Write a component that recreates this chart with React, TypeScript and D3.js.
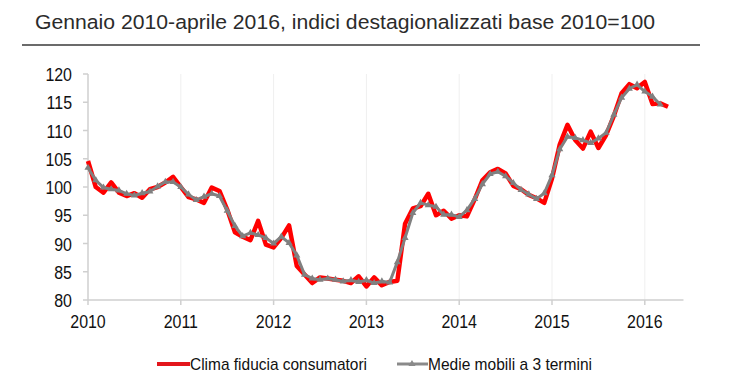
import React from "react";
import * as d3 from "d3";

const title = "Gennaio 2010-aprile 2016, indici destagionalizzati base 2010=100";
const yearLabels = ["2010", "2011", "2012", "2013", "2014", "2015", "2016"];
const yTicks = [80, 85, 90, 95, 100, 105, 110, 115, 120];
const seriesNames = ["Clima fiducia consumatori", "Medie mobili a 3 termini"];

// Monthly values, Jan 2010 - Apr 2016
const clima = [
  104.6, 100.0, 99.0, 100.8, 99.0, 98.4, 98.9, 98.1, 99.6, 100.0, 100.8, 101.8,
  100.0, 98.2, 97.8, 97.2, 99.9, 99.3, 96.0, 92.0, 91.2, 90.6, 94.0, 89.8,
  89.3, 91.0, 93.2, 86.0, 84.5, 83.0, 84.0, 83.8, 83.6, 83.4, 83.0, 84.2,
  82.4, 84.0, 82.6, 83.2, 83.4, 93.5, 96.2, 96.6, 98.8, 95.0, 95.8, 94.4,
  95.0, 94.8, 97.8, 101.2, 102.6, 103.2, 102.4, 100.2, 99.6, 98.6, 98.0, 97.2,
  101.5, 107.5, 111.0, 108.3, 106.8, 109.8, 106.9, 109.2, 112.6, 116.6, 118.2, 117.5,
  118.6, 114.7, 114.8, 114.2,
];

// 3-term moving averages, Jan 2010 - Mar 2016
const medie = [
  103.4, 101.2, 99.9, 99.6, 99.4, 98.8, 98.5, 98.9, 99.2, 100.1, 100.9, 100.9,
  100.0, 98.7, 97.7, 98.3, 98.8, 98.4, 95.8, 93.1, 91.3, 91.9, 91.5, 91.0,
  90.0, 91.2, 90.1, 87.9, 84.5, 83.8, 83.6, 83.8, 83.6, 83.3, 83.5, 83.2,
  83.5, 83.0, 83.3, 83.1, 86.7, 91.0, 95.4, 97.2, 96.8, 96.5, 95.1, 95.1,
  94.7, 95.9, 97.9, 100.5, 102.3, 102.7, 101.9, 100.7, 99.5, 98.7, 97.9, 98.9,
  102.1, 106.7, 108.9, 108.7, 108.3, 107.8, 108.6, 109.6, 112.8, 115.8, 117.4, 118.1,
  116.9, 116.0, 114.6,
];

const W = 740;
const H = 389;
const sans = "'Liberation Sans', Arial, sans-serif";

function NText(props: {
  x: number;
  y: number;
  anchor?: "start" | "middle" | "end";
  size: number;
  sx: number;
  children: React.ReactNode;
}) {
  return (
    <text
      transform={`translate(${props.x},${props.y}) scale(${props.sx},1)`}
      textAnchor={props.anchor || "start"}
      fontFamily={sans}
      fontSize={props.size}
      fill="#111"
    >
      {props.children}
    </text>
  );
}

export default function App() {
  const x = d3.scaleLinear().domain([0, 12]).range([88, 180.8]);
  const y = d3.scaleLinear().domain([80, 120]).range([300, 74]);
  const xEnd = x(77);

  const line = d3
    .line<number>()
    .x((_, i) => x(i))
    .y((d) => y(d));

  const tri = d3.symbol().type(d3.symbolTriangle).size(22)() as string;

  return (
    <svg
      width={W}
      height={H}
      style={{ position: "absolute", left: 0, top: 0, background: "#fff" }}
    >
      <text
        x={35}
        y={29}
        fontFamily={sans}
        fontSize={20.5}
        fill="#2b2b2b"
        textLength={620}
        lengthAdjust="spacingAndGlyphs"
      >
        {title}
      </text>
      <line x1={22} x2={700} y1={45} y2={45} stroke="#6b6b6b" strokeWidth={2} />

      {/* vertical gridlines */}
      {yearLabels.map((_, i) =>
        i === 0 ? null : (
          <line
            key={"g" + i}
            x1={x(i * 12)}
            x2={x(i * 12)}
            y1={y(120)}
            y2={y(80)}
            stroke="#efefef"
            strokeWidth={1}
          />
        )
      )}

      {/* y axis */}
      <line x1={x(0)} x2={x(0)} y1={y(120)} y2={y(80)} stroke="#cfcfcf" strokeWidth={1.5} />
      {yTicks.map((t) => (
        <g key={"y" + t}>
          <line x1={x(0) - 5} x2={x(0)} y1={y(t)} y2={y(t)} stroke="#cfcfcf" strokeWidth={1.5} />
          <NText x={72} y={y(t) + 7} anchor="end" size={19} sx={0.84}>
            {t}
          </NText>
        </g>
      ))}

      {/* x axis */}
      <line x1={x(0)} x2={xEnd} y1={y(80)} y2={y(80)} stroke="#cfcfcf" strokeWidth={1.5} />
      {yearLabels.map((lab, i) => (
        <g key={"x" + lab}>
          <line
            x1={x(i * 12)}
            x2={x(i * 12)}
            y1={y(80)}
            y2={y(80) + 5}
            stroke="#cfcfcf"
            strokeWidth={1.5}
          />
          <NText x={x(i * 12)} y={y(80) + 28} anchor="middle" size={19} sx={0.84}>
            {lab}
          </NText>
        </g>
      ))}

      {/* series */}
      <path
        d={line(clima) as string}
        fill="none"
        stroke="#ff0000"
        strokeWidth={4.5}
        strokeLinejoin="round"
      />
      <path
        d={line(medie) as string}
        fill="none"
        stroke="#808080"
        strokeWidth={3}
        strokeLinejoin="round"
      />
      {medie.map((d, i) => (
        <path key={"m" + i} d={tri} transform={`translate(${x(i)},${y(d)})`} fill="#808080" />
      ))}

      {/* legend */}
      <line x1={157} x2={190} y1={364} y2={364} stroke="#e3161c" strokeWidth={4} />
      <text
        x={190}
        y={370}
        fontFamily={sans}
        fontSize={17}
        fill="#111"
        textLength={177}
        lengthAdjust="spacingAndGlyphs"
      >
        {seriesNames[0]}
      </text>
      <line x1={397} x2={428} y1={364} y2={364} stroke="#8a8a8a" strokeWidth={3} />
      <path d={tri} transform="translate(412,364)" fill="#8a8a8a" />
      <text
        x={428}
        y={370}
        fontFamily={sans}
        fontSize={17}
        fill="#111"
        textLength={164}
        lengthAdjust="spacingAndGlyphs"
      >
        {seriesNames[1]}
      </text>
    </svg>
  );
}
